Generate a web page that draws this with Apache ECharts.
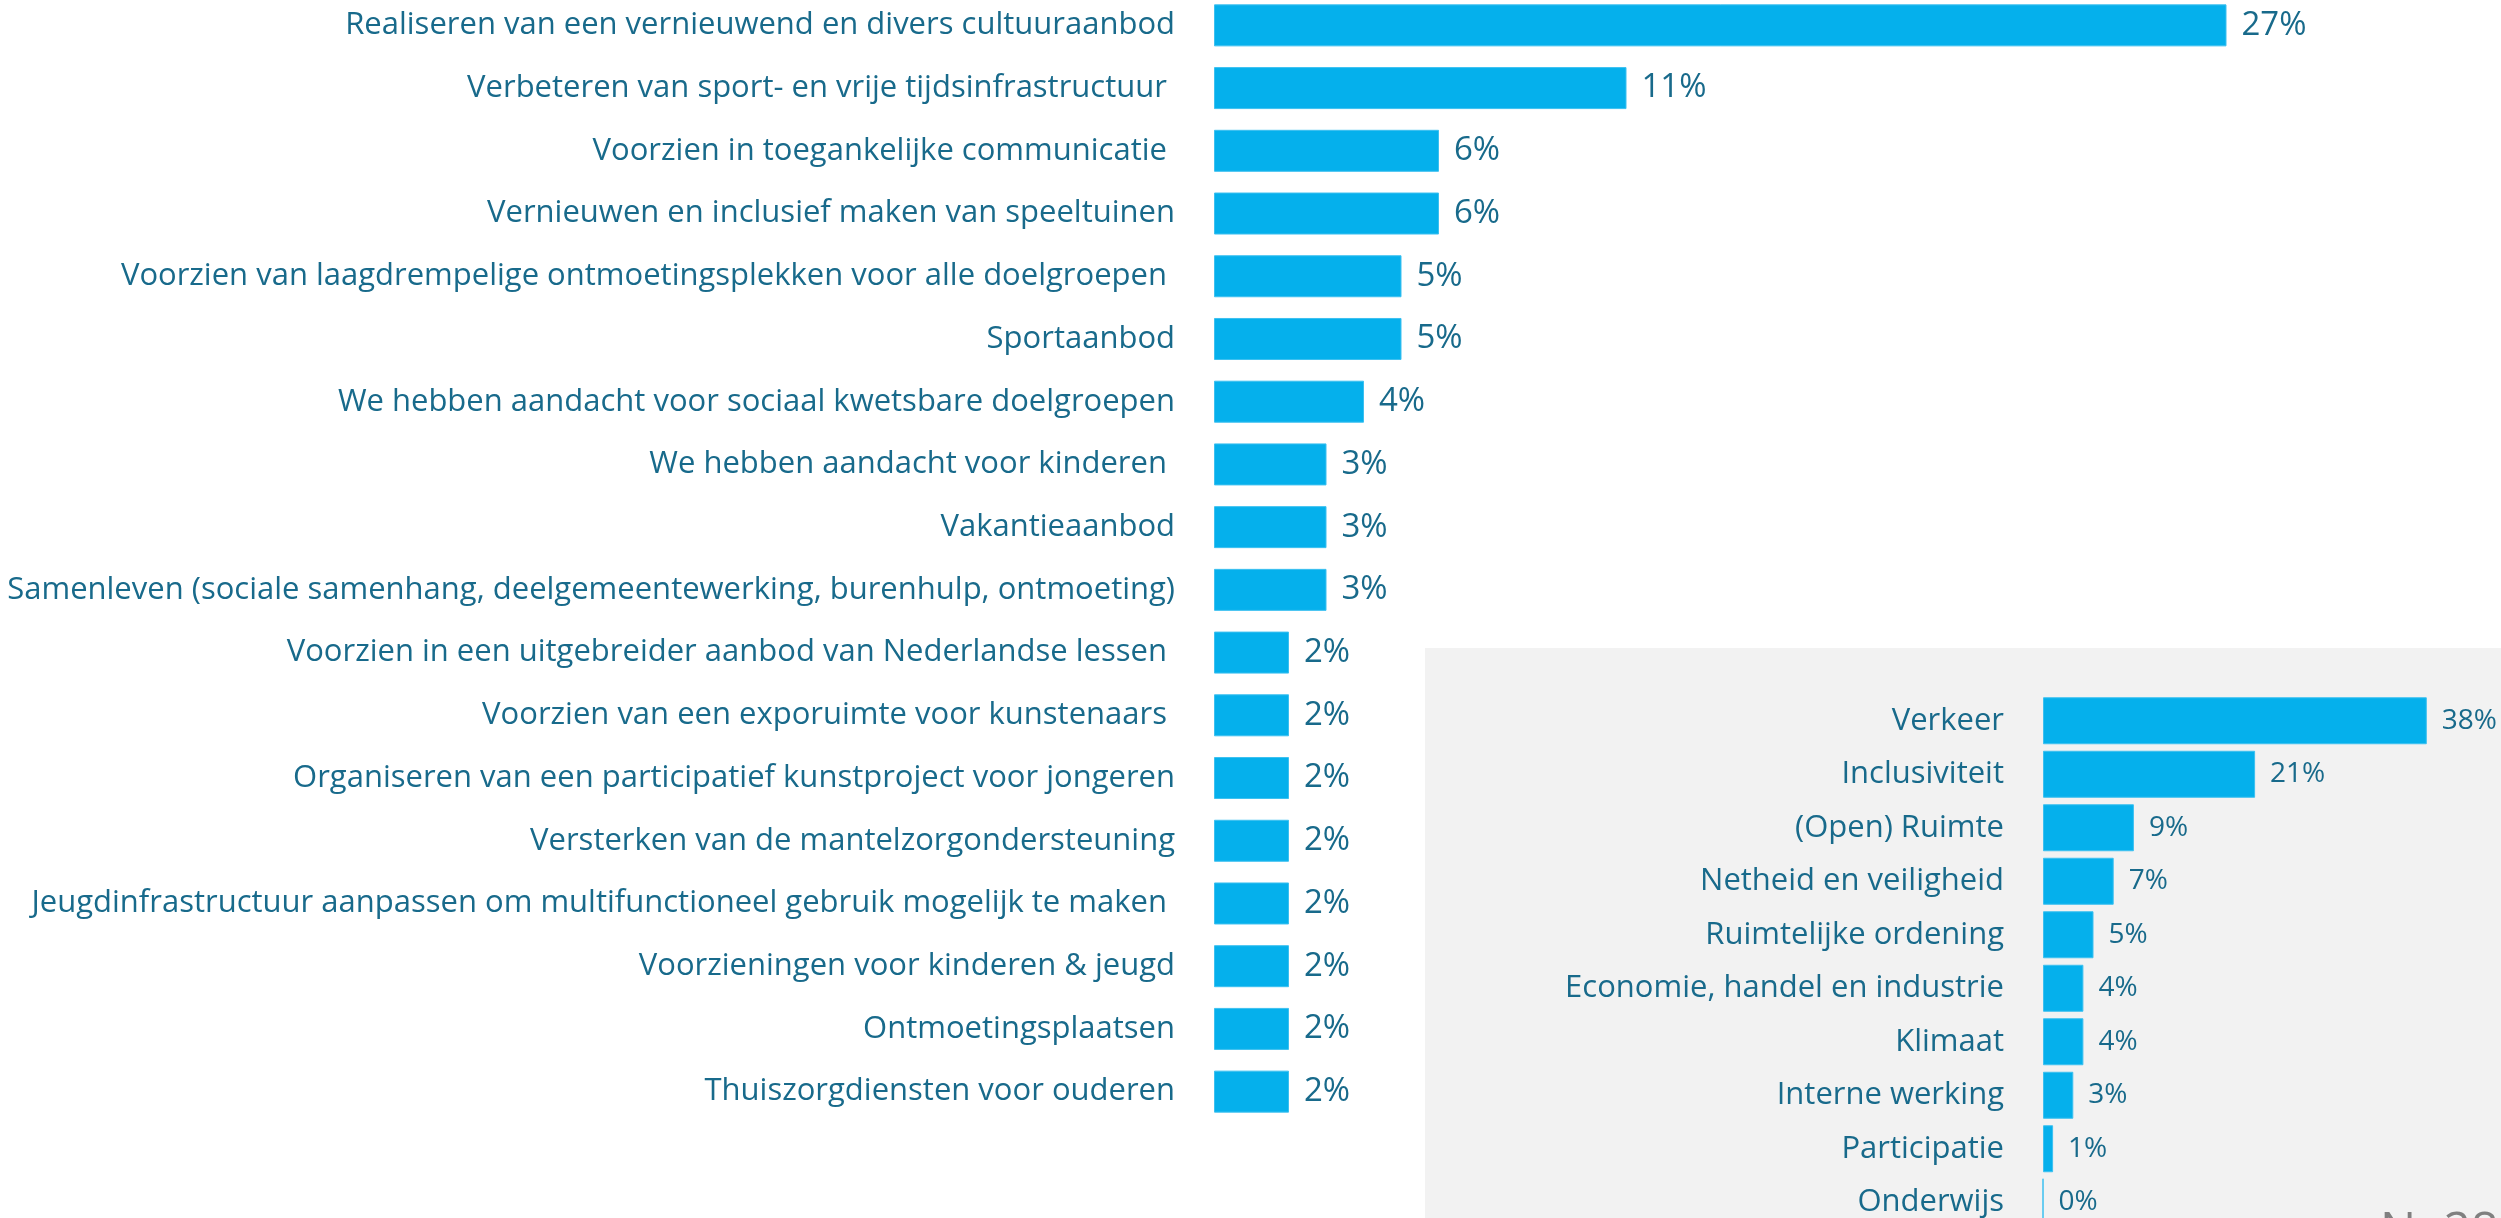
<!DOCTYPE html>
<html>
<head>
<meta charset="utf-8">
<script src="https://cdn.jsdelivr.net/npm/echarts@6/dist/echarts.min.js"></script>
<style>
  html, body { margin: 0; padding: 0; background: #ffffff; }
  #chart { width: 2501px; height: 1218px; }
</style>
</head>
<body>
<div id="chart"></div>
<script>
// Projects named by respondents (share of mentions, %)
const projectCategories = [
  'Realiseren van een vernieuwend en divers cultuuraanbod',
  'Verbeteren van sport- en vrije tijdsinfrastructuur ',
  'Voorzien in toegankelijke communicatie ',
  'Vernieuwen en inclusief maken van speeltuinen',
  'Voorzien van laagdrempelige ontmoetingsplekken voor alle doelgroepen ',
  'Sportaanbod',
  'We hebben aandacht voor sociaal kwetsbare doelgroepen',
  'We hebben aandacht voor kinderen ',
  'Vakantieaanbod',
  'Samenleven (sociale samenhang, deelgemeentewerking, burenhulp, ontmoeting)',
  'Voorzien in een uitgebreider aanbod van Nederlandse lessen ',
  'Voorzien van een exporuimte voor kunstenaars ',
  'Organiseren van een participatief kunstproject voor jongeren',
  'Versterken van de mantelzorgondersteuning',
  'Jeugdinfrastructuur aanpassen om multifunctioneel gebruik mogelijk te maken ',
  'Voorzieningen voor kinderen & jeugd',
  'Ontmoetingsplaatsen',
  'Thuiszorgdiensten voor ouderen'
];
const projectValues = [27, 11, 6, 6, 5, 5, 4, 3, 3, 3, 2, 2, 2, 2, 2, 2, 2, 2];

// Policy domains (inset panel)
const domainCategories = [
  'Verkeer',
  'Inclusiviteit',
  '(Open) Ruimte',
  'Netheid en veiligheid',
  'Ruimtelijke ordening',
  'Economie, handel en industrie',
  'Klimaat',
  'Interne werking',
  'Participatie',
  'Onderwijs'
];
const domainValues = [38, 21, 9, 7, 5, 4, 4, 3, 1, 0];

const sampleNote = 'N=282';

const BAR_BLUE = '#05B0EC';
const TEXT_TEAL = '#186A8B';
const FONT = "'Open Sans', 'Noto Sans', sans-serif";

const chart = echarts.init(document.getElementById('chart'), null, { renderer: 'canvas' });

const categoryAxis = (gridIndex, data, fontSize) => ({
  gridIndex,
  type: 'category',
  data,
  inverse: true,
  axisLine: { show: false },
  axisTick: { show: false },
  splitLine: { show: false },
  axisLabel: {
    interval: 0,
    margin: 39,
    color: TEXT_TEAL,
    fontSize,
    fontFamily: FONT
  }
});

const barSeries = (axisIndex, data, barWidth, labelSize) => ({
  type: 'bar',
  xAxisIndex: axisIndex,
  yAxisIndex: axisIndex,
  data,
  barWidth,
  z: 3,
  itemStyle: {
    color: BAR_BLUE,
    borderColor: '#3CC0F0',
    borderWidth: 1
  },
  label: {
    show: true,
    position: 'right',
    distance: 15,
    formatter: '{c}%',
    color: TEXT_TEAL,
    fontSize: labelSize,
    fontFamily: FONT
  },
  emphasis: { disabled: true },
  animation: false
});

chart.setOption({
  backgroundColor: '#ffffff',
  animation: false,
  grid: [
    { left: 1214, top: -6, width: 1125, height: 1129, outerBoundsMode: 'none', containLabel: false },
    { left: 2043, top: 694, width: 404, height: 535, outerBoundsMode: 'none', containLabel: false }
  ],
  xAxis: [
    { gridIndex: 0, type: 'value', min: 0, max: 30, show: false },
    { gridIndex: 1, type: 'value', min: 0, max: 40, show: false }
  ],
  yAxis: [
    categoryAxis(0, projectCategories, 31),
    categoryAxis(1, domainCategories, 31)
  ],
  graphic: [
    {
      type: 'rect',
      z: -10,
      silent: true,
      shape: { x: 1425, y: 648, width: 1076, height: 570 },
      style: { fill: '#F2F2F2' }
    },
    {
      type: 'text',
      z: 10,
      silent: true,
      left: 2380,
      top: 1208,
      style: {
        text: sampleNote,
        fill: '#808080',
        font: "48px 'Open Sans', sans-serif"
      }
    }
  ],
  series: [
    barSeries(0, projectValues, 42, 33),
    barSeries(1, domainValues, 47, 28)
  ]
});
</script>
</body>
</html>
